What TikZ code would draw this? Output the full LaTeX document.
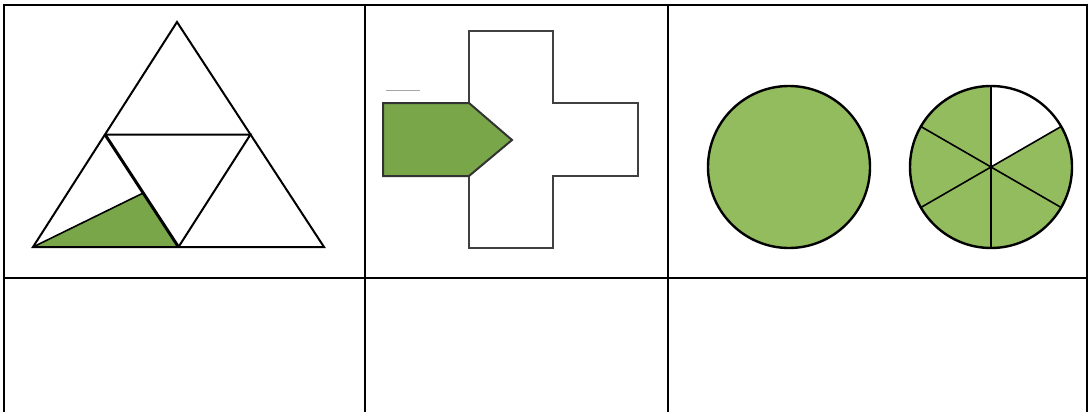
\documentclass[tikz,border=0pt]{standalone}
\usepackage{tikz}
\usetikzlibrary{calc}
\definecolor{leafgreen}{RGB}{120,166,72}
\definecolor{palegreen}{RGB}{146,188,94}

\begin{document}
\begin{tikzpicture}[x=1pt,y=-1pt,
    grid/.style={line width=2pt,line cap=rect},
    outline/.style={line width=2pt,line join=miter},
    part/.style={line width=1.6pt}]
  \useasboundingbox (0,0) rectangle (1089,412);
  % table
  \draw[grid] (4,5) -- (1087,5);
  \draw[grid,line width=2.6pt] (4,278) -- (1087,278);
  \foreach \x in {4,364.5,668,1087}
    { \draw[grid,line cap=butt] (\x,4) -- (\x,412); }

  % triangle split in four, one half-piece shaded
  \coordinate (apex) at (177,22);
  \coordinate (bl) at (33,247);
  \coordinate (br) at (324,247);
  \coordinate (ml) at ($(apex)!0.5!(bl)$);
  \coordinate (mr) at ($(apex)!0.5!(br)$);
  \coordinate (mb) at ($(bl)!0.5!(br)$);
  \coordinate (cut) at ($(ml)!0.52!(mb)$);
  \fill[leafgreen] (bl) -- (cut) -- (mb) -- cycle;
  \draw[part] (bl) -- (cut);
  \draw[outline] (apex) -- (bl) -- (br) -- cycle;
  \draw[outline] (ml) -- (mr) -- (mb);
  \draw[outline,line width=3pt] (ml) -- (mb);

  % cross with shaded left arm
  \fill[leafgreen] (383,103) -- (469,103) -- (512,140) -- (469,176) -- (383,176) -- cycle;
  \draw[outline,black!75] (469,103) -- (469,31) -- (553,31) -- (553,103) -- (638,103)
    -- (638,176) -- (553,176) -- (553,248) -- (469,248) -- (469,176);
  \draw[outline,black!80] (469,103) -- (383,103) -- (383,176) -- (469,176)
    (469,103) -- (512,140) -- (469,176);
  \draw[black!35,line width=1pt] (386,90) -- (420,90);

  % whole circle and circle in sixths
  \coordinate (c1) at (789,167);
  \coordinate (c2) at (991,167);
  \fill[palegreen] (c1) circle[radius=81];
  \draw[outline,line width=2.4pt] (c1) circle[radius=81];
  \fill[palegreen] (c2) -- ++(-90:81) arc[start angle=-90,end angle=-390,radius=81] -- cycle;
  \foreach \a in {30,90,...,330}
    { \draw[part] (c2) -- ++(\a:81); }
  \draw[outline,line width=2.4pt] (c2) circle[radius=81];
\end{tikzpicture}
\end{document}
